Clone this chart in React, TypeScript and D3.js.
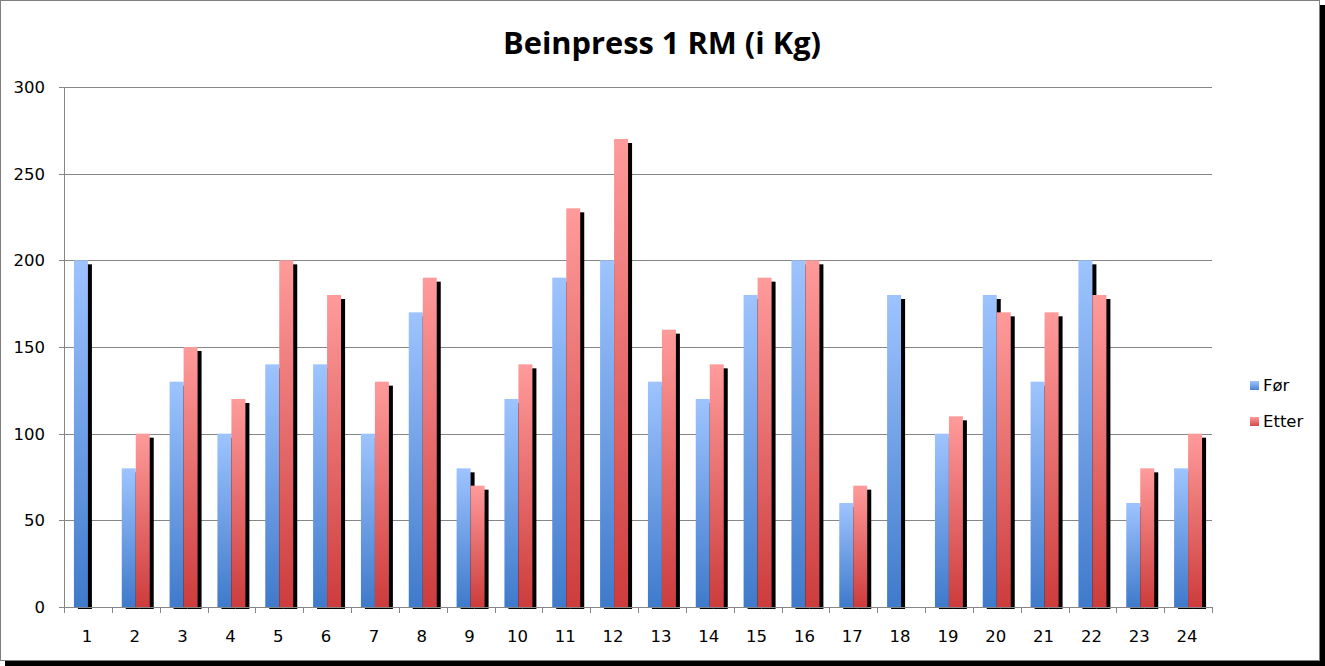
import React from "react";
import * as d3 from "d3";

const categories: string[] = Array.from({ length: 24 }, (_, i) => String(i + 1));
const forValues: (number | null)[] = [200, 80, 130, 100, 140, 140, 100, 170, 80, 120, 190, 200, 130, 120, 180, 200, 60, 180, 100, 180, 130, 200, 60, 80];
const etterValues: (number | null)[] = [null, 100, 150, 120, 200, 180, 130, 190, 70, 140, 230, 270, 160, 140, 190, 200, 70, null, 110, 170, 170, 180, 80, 100];
const seriesNames = ["Før", "Etter"];
const yTicks = [0, 50, 100, 150, 200, 250, 300];
const title = "Beinpress 1 RM (i Kg)";

const W = 1325;
const H = 666;
const plot = { left: 64, right: 1212, top: 87, bottom: 607 };
const font = "'Open Sans', 'Noto Sans', sans-serif";
const labelFont = "'DejaVu Sans', sans-serif";
const labelSize = 16.5;

export default function App() {
  const x0 = d3
    .scaleBand<string>()
    .domain(categories)
    .range([plot.left, plot.right])
    .paddingInner(0.415)
    .paddingOuter(0.2075);
  const x1 = d3.scaleBand<string>().domain(seriesNames).range([0, x0.bandwidth()]);
  const y = d3.scaleLinear().domain([0, 300]).range([plot.bottom, plot.top]);
  const step = x0.step();
  const grid = "#868686";
  const series = [
    { name: "Før", values: forValues, grad: "gFor" },
    { name: "Etter", values: etterValues, grad: "gEtter" },
  ];

  return (
    <div style={{ position: "fixed", left: 0, top: 0 }}>
      <svg width={W} height={H} style={{ display: "block" }}>
        <defs>
          <linearGradient id="gFor" x1="0" y1="0" x2="0" y2="1">
            <stop offset="0%" stopColor="#9EC4FF" />
            <stop offset="100%" stopColor="#3F7ACB" />
          </linearGradient>
          <linearGradient id="gEtter" x1="0" y1="0" x2="0" y2="1">
            <stop offset="0%" stopColor="#FF9B9B" />
            <stop offset="100%" stopColor="#CD3C3C" />
          </linearGradient>
          <linearGradient id="lFor" x1="0" y1="0" x2="0" y2="1">
            <stop offset="0%" stopColor="#9EC4FF" />
            <stop offset="100%" stopColor="#4A84D6" />
          </linearGradient>
          <linearGradient id="lEtter" x1="0" y1="0" x2="0" y2="1">
            <stop offset="0%" stopColor="#FF9B9B" />
            <stop offset="100%" stopColor="#D44848" />
          </linearGradient>
        </defs>
        {/* frame with shadow */}
        <rect x={5} y={5} width={W - 5} height={H - 5} fill="#000" />
        <rect x={0.5} y={0.5} width={1319} height={660} fill="#fff" stroke="#7f7f7f" strokeWidth={1} />

        <text
          x={662}
          y={54}
          textAnchor="middle"
          fontFamily={font}
          fontWeight="bold"
          fontSize={30}
          textLength={318}
          lengthAdjust="spacingAndGlyphs"
          fill="#000"
        >
          {title}
        </text>

        {/* gridlines */}
        {yTicks.map((t) => (
          <line key={"g" + t} x1={plot.left - 5} x2={plot.right} y1={Math.round(y(t)) + 0.5} y2={Math.round(y(t)) + 0.5} stroke={grid} strokeWidth={1} />
        ))}
        {yTicks.map((t) => (
          <text key={"yt" + t} x={45} y={y(t) + 6} textAnchor="end" fontFamily={labelFont} fontSize={labelSize} fill="#000">
            {t}
          </text>
        ))}

        {/* shadows */}
        {series.map((s) =>
          s.values.map((v, i) =>
            v == null ? null : (
              <rect
                key={"sh" + s.name + i}
                x={(x0(categories[i]) ?? 0) + (x1(s.name) ?? 0) + 4}
                y={y(v) + 4}
                width={x1.bandwidth()}
                height={plot.bottom + 2 - (y(v) + 4)}
                fill="#000"
              />
            )
          )
        )}
        {/* bars */}
        {series.map((s) =>
          s.values.map((v, i) =>
            v == null ? null : (
              <rect
                key={"b" + s.name + i}
                x={(x0(categories[i]) ?? 0) + (x1(s.name) ?? 0)}
                y={y(v)}
                width={x1.bandwidth()}
                height={plot.bottom - y(v)}
                fill={`url(#${s.grad})`}
              />
            )
          )
        )}

        {/* axes */}
        <line x1={plot.left + 0.5} x2={plot.left + 0.5} y1={plot.top} y2={plot.bottom} stroke={grid} />
        <line x1={plot.left - 5} x2={plot.right} y1={plot.bottom + 0.5} y2={plot.bottom + 0.5} stroke={grid} />
        {d3.range(categories.length + 1).map((i) => {
          const xx = Math.round(plot.left + i * step) + 0.5;
          return <line key={"xt" + i} x1={xx} x2={xx} y1={plot.bottom} y2={plot.bottom + 6} stroke={grid} />;
        })}
        {categories.map((c) => (
          <text
            key={"xl" + c}
            x={(x0(c) ?? 0) + x0.bandwidth() / 2 - 1}
            y={642}
            textAnchor="middle"
            fontFamily={labelFont}
            fontSize={labelSize}
            fill="#000"
          >
            {c}
          </text>
        ))}

        {/* legend */}
        {seriesNames.map((n, i) => (
          <g key={"lg" + n} transform={`translate(1250, ${381 + i * 36})`}>
            <rect x={0} y={0} width={9} height={9} fill={`url(#${i === 0 ? "lFor" : "lEtter"})`} />
            <text x={13} y={10} fontFamily={labelFont} fontSize={labelSize} fill="#000">
              {n}
            </text>
          </g>
        ))}
      </svg>
    </div>
  );
}
